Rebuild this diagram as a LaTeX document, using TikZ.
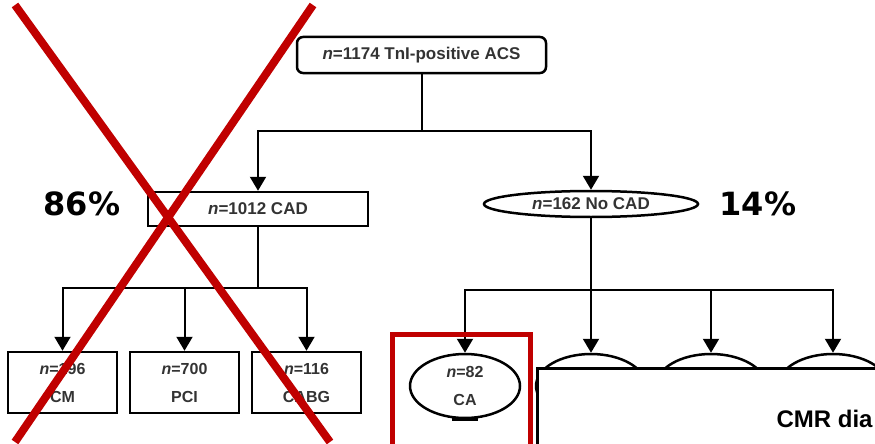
\documentclass[tikz,border=0pt]{standalone}
\usepackage{fontspec}
\setmainfont{Liberation Sans}
\newfontfamily\pctfont{DejaVu Sans}
\usetikzlibrary{arrows.meta,shapes.geometric}
\definecolor{txtc}{HTML}{333333}
\definecolor{crossc}{HTML}{C00000}
\tikzset{
  ar/.style={-{Triangle[length=14pt,width=16pt]},line width=2pt},
  ln/.style={line width=2pt},
  box/.style={draw,line width=2.5pt,text=txtc,inner sep=0pt,font=\fontsize{17}{20}\selectfont\bfseries},
  leaf/.style={box,minimum width=109pt,minimum height=61pt,align=center,font=\fontsize{16}{28}\selectfont\bfseries},
  oval/.style={box,ellipse},
  leafoval/.style={oval,minimum width=110pt,minimum height=64pt,align=center,font=\fontsize{16}{28}\selectfont\bfseries},
  pct/.style={font=\pctfont\fontsize{32}{36}\selectfont\bfseries},
  cross/.style={crossc,line width=8pt}
}

\begin{document}
\begin{tikzpicture}[x=1pt,y=-1pt]
\useasboundingbox (0,0) rectangle (875,444);
\clip (0,0) rectangle (875,444);
% top of the tree
\node[box,rounded corners=6pt,minimum width=249pt,minimum height=36pt] (all) at (421.5,55) {\textit{n}=1174 TnI-positive ACS};
\node[box,minimum width=220pt,minimum height=34pt] (cad) at (258,209) {\textit{n}=1012 CAD};
\node[oval,minimum width=214pt,minimum height=26pt] (nocad) at (591,204) {\textit{n}=162 No CAD};
\node[pct] (pcad) at (82,204) {86\%};
\node[pct] (pnocad) at (758,204) {14\%};
\coordinate (bus0) at (421.5,131);
\draw[ln] (all.south) -- (bus0);
\draw[ar] (bus0) -| (cad.north);
\draw[ar] (bus0) -| (nocad.north);
% CAD branch
\node[leaf] (cm) at (62.5,382.5) {\textit{n}=196\\CM};
\node[leaf] (pci) at (184.5,382.5) {\textit{n}=700\\PCI};
\node[leaf] (cabg) at (306.5,382.5) {\textit{n}=116\\CABG};
\coordinate (bus1) at (258,288);
\draw[ln] (cad.south) -- (bus1);
\draw[ar] (bus1) -| (cm.north);
\draw[ar] (bus1) -| (pci.north);
\draw[ar] (bus1) -| (cabg.north);
% no CAD branch
\node[leafoval] (ca) at (465,386) {\textit{n}=82\\CA};
\node[leafoval] (ov2) at (591,386) {};
\node[leafoval] (ov3) at (711,386) {};
\node[leafoval] (ov4) at (833,386) {};
\coordinate (bus2) at (591,290);
\draw[ln] (nocad.south) -- (bus2);
\draw[ar] (bus2) -| (ca.north);
\draw[ar] (bus2) -- (ov2.north);
\draw[ar] (bus2) -| (ov3.north);
\draw[ar] (bus2) -| (ov4.north);
\draw[line width=3pt] ([xshift=-13pt]ca.south) -- ([xshift=13pt]ca.south);
% overlay panel
\draw[fill=white,line width=3pt] (537,368) rectangle (890,460);
\node[anchor=base west,font=\fontsize{24}{28}\selectfont\bfseries] (cmr) at (773,427) {CMR dia};
% red marks
\draw[crossc,line width=5pt] (392,334) rectangle (530,460);
\draw[cross] (15,5) -- (330,442);
\draw[cross] (313,5) -- (15,442);
\end{tikzpicture}
\end{document}
